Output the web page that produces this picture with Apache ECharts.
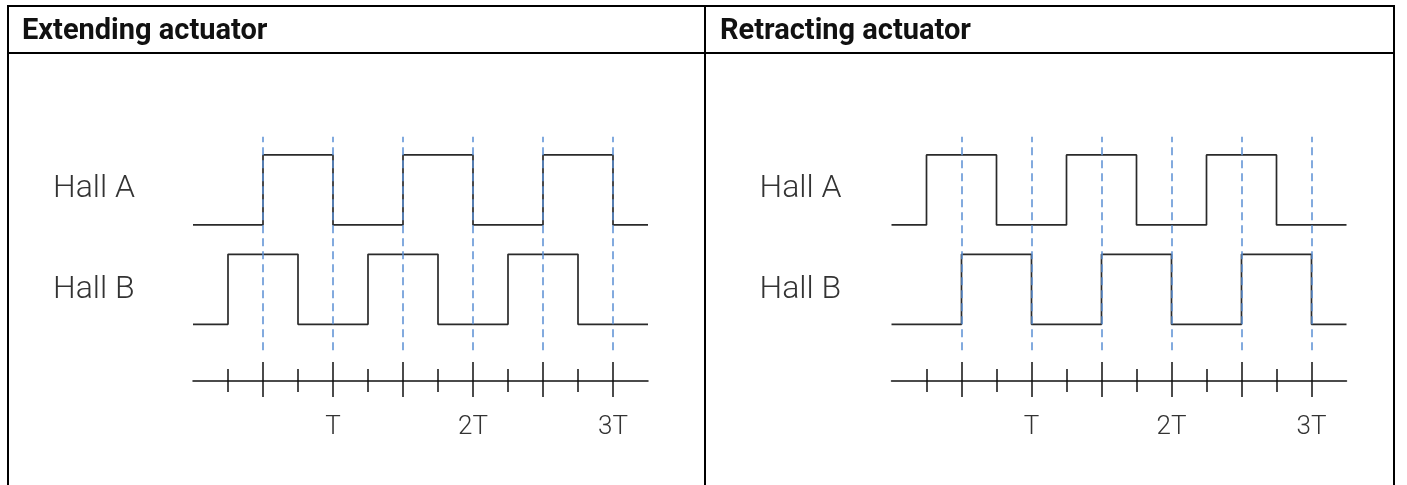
<!DOCTYPE html>
<html><head><meta charset="utf-8">
<script src="https://cdn.jsdelivr.net/npm/echarts@6/dist/echarts.min.js"></script>
<style>html,body{margin:0;padding:0;background:#fff}#c{width:1407px;height:485px}</style>
</head><body><div id="c"></div>
<script>
// ---- data (time in units of T, logic level after each edge) ----
const panelTitles = ["Extending actuator", "Retracting actuator"];
const signalNames = ["Hall A", "Hall B"];
const extHallATimes  = [0, 0.5, 1, 1.5, 2, 2.5, 3, 3.25];
const extHallALevels = [0, 1, 0, 1, 0, 1, 0, 0];
const extHallBTimes  = [0, 0.25, 0.75, 1.25, 1.75, 2.25, 2.75, 3.25];
const extHallBLevels = [0, 1, 0, 1, 0, 1, 0, 0];
const retHallATimes  = [0, 0.25, 0.75, 1.25, 1.75, 2.25, 2.75, 3.25];
const retHallALevels = [0, 1, 0, 1, 0, 1, 0, 0];
const retHallBTimes  = [0, 0.5, 1, 1.5, 2, 2.5, 3, 3.25];
const retHallBLevels = [0, 1, 0, 1, 0, 1, 0, 0];
const majorTicks = [0.5, 1, 1.5, 2, 2.5, 3];
const minorTicks = [0.25, 0.75, 1.25, 1.75, 2.25, 2.75];
const tickLabelValues = [1, 2, 3];
const tickLabels = ["T", "2T", "3T"];
const dashedMarks = [0.5, 1, 1.5, 2, 2.5, 3];

// ---- layout / style ----
const T_MAX = 3.25, Y_MAX = 3.5;
const baseA = 2.23, baseB = 0.81;       // vertical placement of each trace
const labelYA = 2.74, labelYB = 1.30;   // vertical placement of the names
const dashLow = 0.44, dashHigh = 3.49;
const FONT = 'Roboto, "Noto Sans", sans-serif';
const panels = [
  {left: 193, A: [extHallATimes, extHallALevels], B: [extHallBTimes, extHallBLevels], labelMargin: 140},
  {left: 891.5, A: [retHallATimes, retHallALevels], B: [retHallBTimes, retHallBLevels], labelMargin: 132}
];

const grid = [], xAxis = [], yAxis = [], series = [];
panels.forEach((p, gi) => {
  grid.push({left: p.left, width: 455, top: 136, height: 245});
  const base = {type: 'value', gridIndex: gi, min: 0, max: T_MAX, position: 'bottom', splitLine: {show: false}};
  const tickStyle = {color: '#111', width: 1.5};
  xAxis.push(Object.assign({}, base, {
    axisLine: {show: true, lineStyle: {color: '#111', width: 1.5}},
    axisTick: {show: true, inside: false, length: 16, customValues: majorTicks, lineStyle: tickStyle},
    axisLabel: {show: true, customValues: tickLabelValues, margin: 33,
      formatter: v => tickLabels[tickLabelValues.indexOf(v)],
      fontFamily: FONT, fontWeight: 300, fontSize: 26, color: '#333'}
  }));
  xAxis.push(Object.assign({}, base, {
    axisLine: {show: false}, axisLabel: {show: false},
    axisTick: {show: true, inside: true, length: 19, customValues: majorTicks, lineStyle: tickStyle}
  }));
  xAxis.push(Object.assign({}, base, {
    axisLine: {show: false}, axisLabel: {show: false},
    axisTick: {show: true, inside: false, length: 11, customValues: minorTicks, lineStyle: tickStyle}
  }));
  xAxis.push(Object.assign({}, base, {
    axisLine: {show: false}, axisLabel: {show: false},
    axisTick: {show: true, inside: true, length: 12, customValues: minorTicks, lineStyle: tickStyle}
  }));
  yAxis.push({type: 'value', gridIndex: gi, min: 0, max: Y_MAX,
    axisLine: {show: false}, axisTick: {show: false}, splitLine: {show: false},
    axisLabel: {show: true, customValues: [labelYA, labelYB], align: 'left', margin: p.labelMargin,
      formatter: v => v === labelYA ? signalNames[0] : signalNames[1],
      fontFamily: FONT, fontWeight: 300, fontSize: 32, color: '#333'}
  });
  const xi = gi * 4;
  [[p.A, baseA], [p.B, baseB]].forEach(([sig, off]) => {
    series.push({type: 'line', xAxisIndex: xi, yAxisIndex: gi, step: 'end', symbol: 'none', silent: true,
      lineStyle: {color: '#2a2a2a', width: 1.7}, z: 2,
      data: sig[0].map((t, i) => [t, sig[1][i] + off])});
  });
  series.push({type: 'line', xAxisIndex: xi, yAxisIndex: gi, data: [], symbol: 'none', z: 5,
    markLine: {silent: true, symbol: 'none', label: {show: false},
      lineStyle: {color: '#5a8ed4', type: [8, 5], width: 1.5, opacity: 1},
      emphasis: {disabled: true},
      data: dashedMarks.map(t => [{coord: [t, dashLow]}, {coord: [t, dashHigh]}])}});
});

const chart = echarts.init(document.getElementById('c'), null, {renderer: 'canvas'});
chart.setOption({
  animation: false,
  backgroundColor: '#fff',
  title: panelTitles.map((t, i) => ({text: t, left: i === 0 ? 22 : 720, top: 17, padding: 0,
    textStyle: {fontFamily: FONT, fontWeight: 'bold', fontSize: 29, color: '#111'}})),
  grid, xAxis, yAxis, series,
  graphic: [
    {type: 'line', shape: {x1: 8, y1: 6, x2: 1394, y2: 6}, style: {stroke: '#000', lineWidth: 2}},
    {type: 'line', shape: {x1: 8, y1: 53, x2: 1394, y2: 53}, style: {stroke: '#000', lineWidth: 2}},
    {type: 'line', shape: {x1: 8, y1: 5, x2: 8, y2: 485}, style: {stroke: '#000', lineWidth: 2}},
    {type: 'line', shape: {x1: 705, y1: 5, x2: 705, y2: 485}, style: {stroke: '#000', lineWidth: 2}},
    {type: 'line', shape: {x1: 1394, y1: 5, x2: 1394, y2: 485}, style: {stroke: '#000', lineWidth: 2}}
  ]
});
</script></body></html>
